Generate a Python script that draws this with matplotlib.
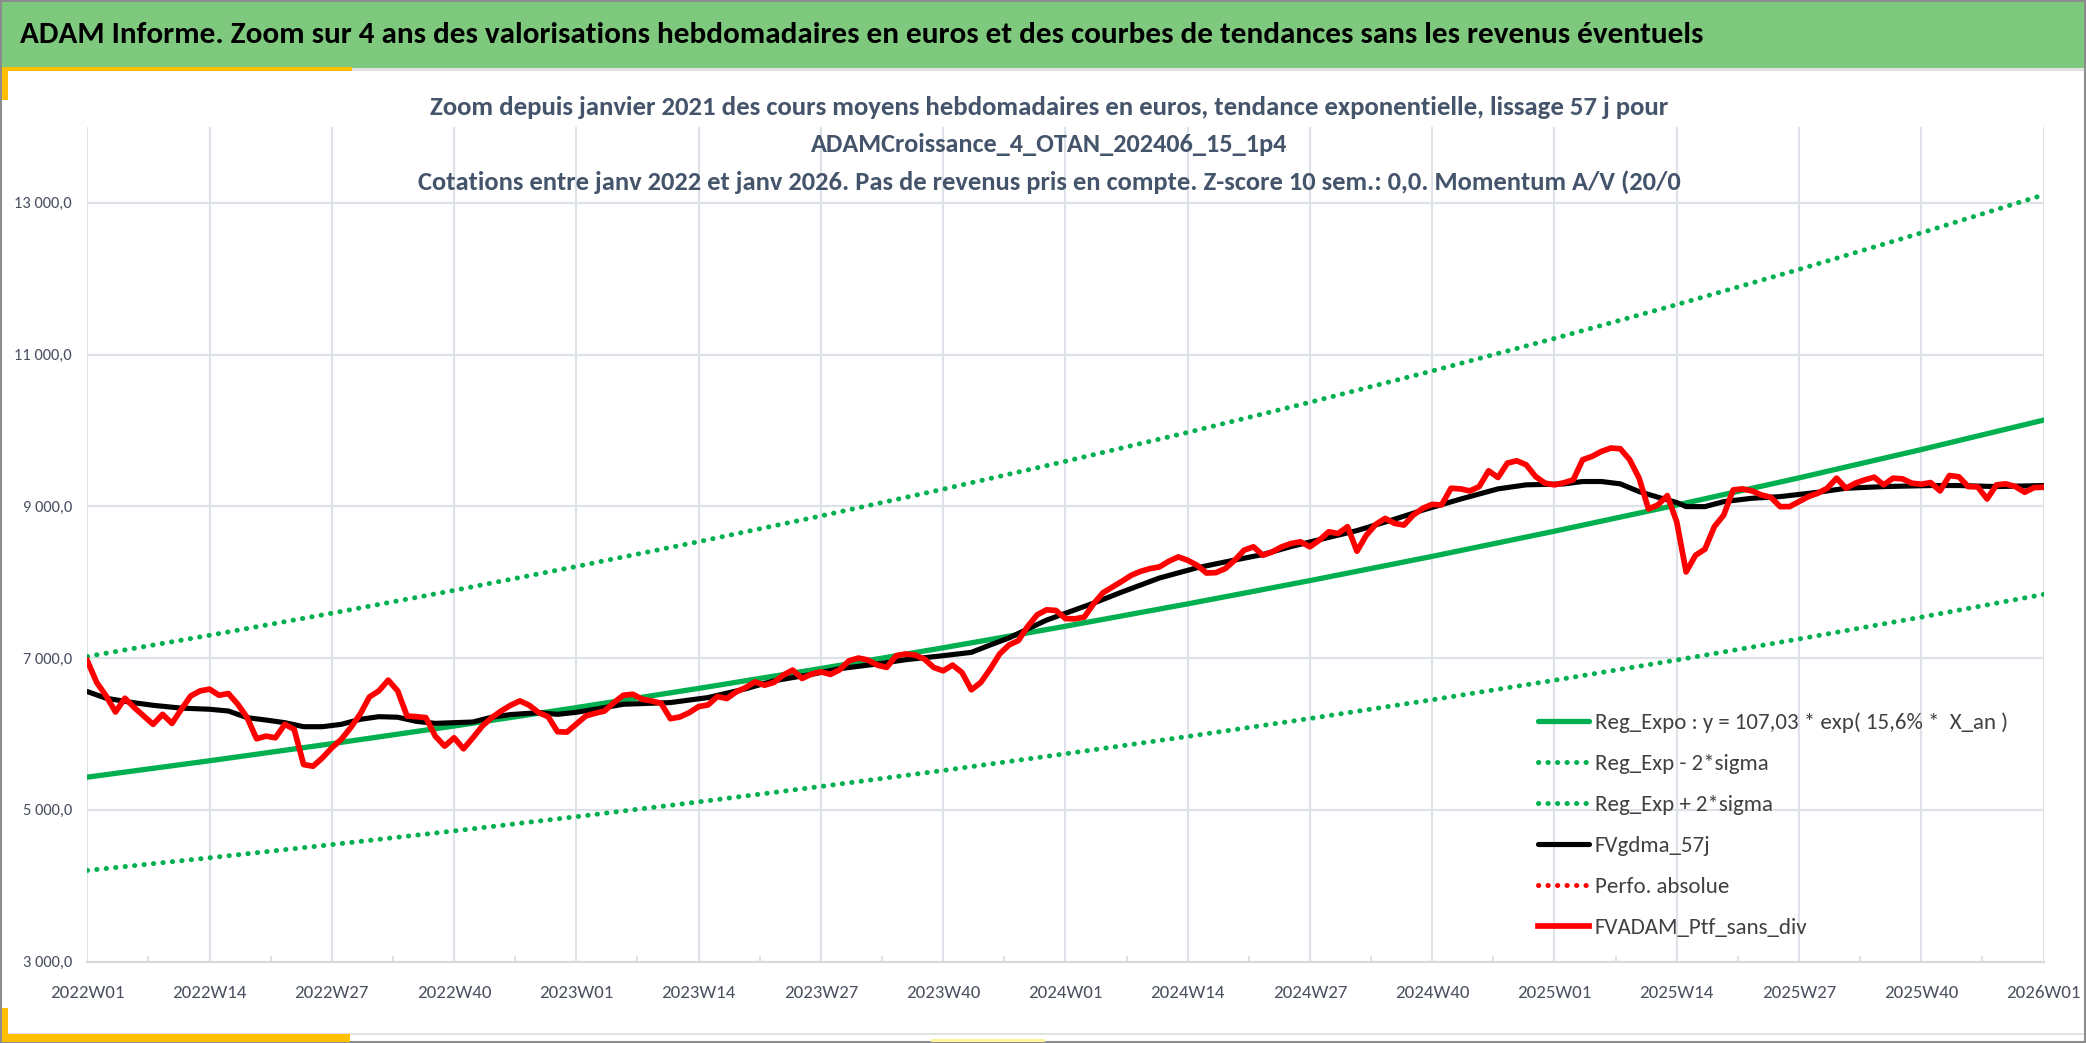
import numpy as np
import matplotlib
matplotlib.use("Agg")
import matplotlib.pyplot as plt
from matplotlib import font_manager
from matplotlib.patches import Rectangle

W, H = 2086, 1043

# Calibri-like font: take the first one installed
installed = {f.name for f in font_manager.fontManager.ttflist}
wanted = ["Carlito", "Liberation Sans Narrow", "PT Sans Narrow", "Archivo Narrow",
          "Fira Sans Condensed", "Encode Sans Condensed", "Liberation Sans"]
FONT = next(n for n in wanted if n in installed)
plt.rcParams["font.family"] = [FONT, "DejaVu Sans"]

# ---------------------------------------------------------------- data
weeks = [f"{y}W{w:02d}" for y in range(2022, 2026) for w in range(1, 53)] + ["2026W01"]
tick_labels = weeks[::13]

# FVADAM_Ptf_sans_div, weekly (2022W01 .. 2026W01)
ptf = [
    6965, 6678, 6501, 6289, 6470, 6347, 6236, 6126, 6258, 6139, 6325, 6501, 6567,
    6590, 6510, 6532, 6391, 6214, 5936, 5971, 5949, 6126, 6060, 5596, 5574, 5684,
    5817, 5927, 6082, 6258, 6488, 6567, 6709, 6567, 6236, 6227, 6214, 5971, 5839,
    5949, 5804, 5949, 6104, 6214, 6302, 6377, 6435, 6377, 6280, 6227, 6029, 6024,
    # 2023
    6130, 6236, 6272, 6302, 6413, 6510, 6523, 6457, 6435, 6404, 6201, 6223, 6280,
    6360, 6382, 6492, 6466, 6554, 6611, 6686, 6642, 6678, 6775, 6841, 6731, 6788,
    6819, 6784, 6845, 6965, 7000, 6974, 6907, 6876, 7031, 7053, 7040, 6987, 6876,
    6832, 6907, 6810, 6581, 6678, 6854, 7053, 7172, 7230, 7419, 7570, 7636, 7627,
    # 2024
    7520, 7517, 7539, 7715, 7861, 7936, 8011, 8091, 8143, 8179, 8201, 8276, 8333,
    8289, 8223, 8121, 8126, 8179, 8289, 8422, 8466, 8355, 8400, 8466, 8510, 8532,
    8466, 8554, 8664, 8642, 8731, 8408, 8620, 8762, 8841, 8775, 8753, 8885, 8974,
    9026, 9018, 9238, 9230, 9203, 9260, 9468, 9380, 9570, 9600, 9547, 9392, 9305,
    # 2025
    9283, 9310, 9349, 9614, 9658, 9724, 9768, 9759, 9614, 9371, 8965, 9018, 9141,
    8797, 8135, 8355, 8435, 8731, 8885, 9216, 9230, 9203, 9150, 9119, 8996, 8996,
    9062, 9128, 9172, 9238, 9371, 9238, 9305, 9349, 9384, 9283, 9371, 9362, 9305,
    9291, 9313, 9203, 9406, 9389, 9260, 9256, 9097, 9283, 9296, 9260, 9185, 9247,
    # 2026
    9252,
]

# FVgdma_57j, read at selected weeks
gdma_weeks = [
    "2022W01", "2022W03", "2022W06", "2022W08", "2022W11", "2022W14", "2022W16",
    "2022W18", "2022W20", "2022W22", "2022W24", "2022W26", "2022W28", "2022W30",
    "2022W32", "2022W34", "2022W36", "2022W38", "2022W40", "2022W42", "2022W44",
    "2022W46", "2022W49", "2022W51", "2023W01", "2023W03", "2023W06", "2023W11",
    "2023W15", "2023W19", "2023W22", "2023W26", "2023W29", "2023W33", "2023W36",
    "2023W40", "2023W43", "2023W45", "2023W47", "2023W49", "2023W51", "2024W01",
    "2024W04", "2024W07", "2024W11", "2024W15", "2024W18", "2024W22", "2024W25",
    "2024W29", "2024W32", "2024W36", "2024W39", "2024W43", "2024W47", "2024W50",
    "2025W02", "2025W04", "2025W06", "2025W08", "2025W10", "2025W12", "2025W14",
    "2025W15", "2025W17", "2025W19", "2025W22", "2025W25", "2025W29", "2025W32",
    "2025W36", "2025W41", "2025W44", "2025W48", "2026W01",
]
gdma_vals = [
    6558, 6470, 6410, 6377, 6340, 6325, 6302, 6214, 6183, 6148, 6095, 6095, 6126,
    6192, 6227, 6220, 6165, 6139, 6148, 6157, 6220, 6255, 6280, 6258, 6285, 6325,
    6391, 6413, 6479, 6595, 6700, 6785, 6860, 6922, 6978, 7031, 7075, 7172, 7265,
    7384, 7500, 7590, 7724, 7870, 8055, 8190, 8267, 8365, 8470, 8590, 8680, 8830,
    8950, 9095, 9230, 9283, 9295, 9327, 9327, 9296, 9194, 9120, 9050, 8996, 8996,
    9062, 9106, 9128, 9185, 9238, 9260, 9274, 9274, 9260, 9274,
]

# Reg_Expo and +/- 2 sigma bands, read at the labelled weeks
reg_expo = [5430, 5646, 5871, 6104, 6347, 6600, 6862, 7135, 7419,
            7714, 8021, 8340, 8672, 9017, 9375, 9748, 10136]
reg_low = [4200, 4367, 4541, 4721, 4909, 5104, 5307, 5518, 5738,
           5966, 6203, 6450, 6707, 6974, 7251, 7539, 7839]
reg_high = [7021, 7300, 7591, 7892, 8207, 8534, 8873, 9226, 9593,
            9974, 10371, 10784, 11213, 11659, 12122, 12604, 13106]

labels = [
    "Reg_Expo : y = 107,03 * exp( 15,6% *  X_an )",
    "Reg_Exp - 2*sigma",
    "Reg_Exp + 2*sigma",
    "FVgdma_57j",
    "Perfo. absolue",
    "FVADAM_Ptf_sans_div",
]

header = ("ADAM Informe. Zoom sur 4 ans des valorisations hebdomadaires en euros "
          "et des courbes de tendances sans les revenus éventuels")
subtitle = [
    "Zoom depuis janvier 2021 des cours moyens hebdomadaires en euros, tendance exponentielle, lissage 57 j pour",
    "ADAMCroissance_4_OTAN_202406_15_1p4",
    "Cotations entre janv 2022 et janv 2026. Pas de revenus pris en compte. Z-score 10 sem.: 0,0. Momentum A/V (20/0",
]

# ---------------------------------------------------------------- colours
GREEN = "#00B050"
RED = "#FF0000"
GRID = "#DDE1E8"
TXT = "#44546A"
DOT = (0, (0.05, 1.85))


def fx(px):
    return px / W


def fy(py):
    return 1 - py / H


fig = plt.figure(figsize=(W / 100, H / 100), dpi=100)
fig.patch.set_facecolor("white")

# frame, header band and yellow accents
fig.add_artist(Rectangle((fx(1), fy(1042)), fx(2084), 1041 / H, transform=fig.transFigure,
                         facecolor="none", edgecolor="#8C8C8C", lw=1.5))
fig.add_artist(Rectangle((fx(2), fy(68)), fx(2082), 66 / H, transform=fig.transFigure,
                         facecolor="#7FC97F", edgecolor="none"))
fig.add_artist(Rectangle((fx(2), fy(70.5)), fx(2082), 2.5 / H, transform=fig.transFigure,
                         facecolor="#E3E3E3", edgecolor="none"))
fig.add_artist(Rectangle((fx(2), fy(1035)), fx(2082), 2 / H, transform=fig.transFigure,
                         facecolor="#E3E3E3", edgecolor="none"))
fig.add_artist(Rectangle((fx(2), fy(70.5)), fx(350), 3 / H, transform=fig.transFigure,
                         facecolor="#FFC000", edgecolor="none"))
fig.add_artist(Rectangle((fx(2), fy(100)), fx(6), 32 / H, transform=fig.transFigure,
                         facecolor="#FFC000", edgecolor="none"))
fig.add_artist(Rectangle((fx(2), fy(1042)), fx(348), 8 / H, transform=fig.transFigure,
                         facecolor="#FFC000", edgecolor="none"))
fig.add_artist(Rectangle((fx(2), fy(1042)), fx(6), 34 / H, transform=fig.transFigure,
                         facecolor="#FFC000", edgecolor="none"))
fig.add_artist(Rectangle((fx(931), fy(1042)), fx(114), 3 / H, transform=fig.transFigure,
                         facecolor="#FFF59A", edgecolor="none"))

renderer = fig.canvas.get_renderer()


def fit(t, width):
    # scale font so the text spans the width measured on the reference
    w = t.get_window_extent(renderer).width
    t.set_fontsize(t.get_fontsize() * width / w)


t = fig.text(fx(20), fy(35), header, fontsize=17, fontweight="bold", color="black",
             ha="left", va="center")
fit(t, 1679)

sub_y = [107.5, 145, 182]
sub_w = [1243, 477, 1269]
for line, py, pw in zip(subtitle, sub_y, sub_w):
    t = fig.text(fx(1049), fy(py), line, fontsize=15, fontweight="bold", color=TXT,
                 ha="center", va="center")
    fit(t, pw)

# ---------------------------------------------------------------- axes
ax = fig.add_axes([fx(87.3), fy(961.5), fx(2043.5 - 87.3), (961.5 - 127) / H])
x = np.arange(len(weeks))
tick_idx = [weeks.index(w) for w in tick_labels]
gdma_idx = [weeks.index(w) for w in gdma_weeks]

ax.plot(tick_idx, reg_expo, color=GREEN, lw=3.8, solid_capstyle="round", label=labels[0])
ax.plot(tick_idx, reg_low, color=GREEN, lw=3.6, ls=DOT, dash_capstyle="round", label=labels[1])
ax.plot(tick_idx, reg_high, color=GREEN, lw=3.6, ls=DOT, dash_capstyle="round", label=labels[2])
ax.plot(gdma_idx, gdma_vals, color="black", lw=3.7, solid_capstyle="round", label=labels[3])
ax.plot([], [], color=RED, lw=3.6, ls=DOT, dash_capstyle="round", label=labels[4])
ax.plot(x, ptf, color=RED, lw=4.1, solid_joinstyle="round", label=labels[5])

ax.set_xlim(0, len(weeks) - 1)
ax.set_ylim(3000, 14000)
ax.set_xticks(tick_idx)
ax.set_xticklabels(tick_labels)
ax.set_xticks(np.arange(6.5, len(weeks) - 1, 13), minor=True)
yt = np.arange(3000, 14000, 2000)
ax.set_yticks(yt)
ax.set_yticklabels([f"{v:,.1f}".replace(",", " ").replace(".", ",") for v in yt])

ax.grid(True, color=GRID, lw=1.5)
ax.set_axisbelow(True)
for s in ["left", "top", "right"]:
    ax.spines[s].set_visible(False)
ax.spines["bottom"].set_color("#D9D9D9")
ax.spines["bottom"].set_linewidth(1.5)
ax.tick_params(axis="x", which="minor", direction="in", length=4, width=1.5, color=GRID)

# tick label sizes from the widths seen on the reference
xl = ax.get_xticklabels()[0]
xl.set_fontsize(14)
xsize = 14 * 75 / xl.get_window_extent(renderer).width
yl = ax.get_yticklabels()[-1]
yl.set_fontsize(12)
ysize = 12 * 58 / yl.get_window_extent(renderer).width
ax.tick_params(axis="x", which="major", length=0, pad=0.75 * xsize + 6.5, labelsize=xsize,
               labelcolor="#4A5060")
ax.tick_params(axis="y", length=0, pad=11, labelsize=ysize, labelcolor="#4A5060")

leg = ax.legend(loc="upper left", bbox_to_anchor=(fx(1538), fy(712)), bbox_transform=fig.transFigure,
                frameon=False, fontsize=16, labelcolor="#404040", handlelength=2.3,
                handletextpad=0.25, labelspacing=0.95, borderpad=0, borderaxespad=0)
lw0 = leg.get_texts()[0].get_window_extent(renderer).width
for t in leg.get_texts():
    t.set_fontsize(16 * 414 / lw0)

fig.savefig("out.png", dpi=100)
